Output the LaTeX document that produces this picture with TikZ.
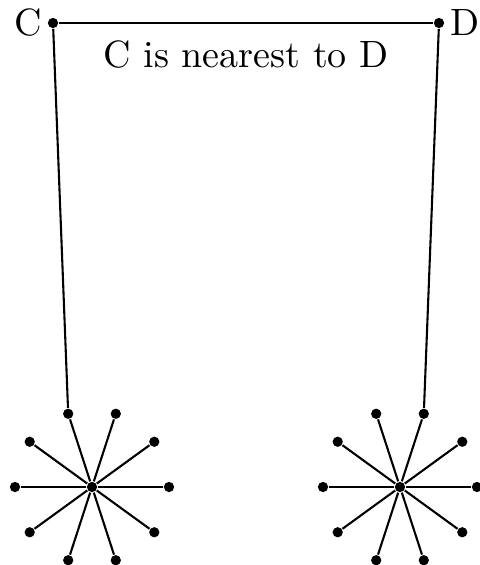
\documentclass[tikz,border=0pt]{standalone}
\usetikzlibrary{calc}
\begin{document}
\begin{tikzpicture}[x=0.263pt,y=-0.263pt,
  dot/.style={circle,fill=black,inner sep=0pt,minimum size=2.7pt},
  edge/.style={line width=0.55pt}]
\useasboundingbox (0,0) rectangle (479,565);
% top
\node[dot] (C) at (53,23) {};
\node[dot] (D) at (439,23) {};
\node[anchor=east,inner sep=1.2pt] (Cl) at (C.west) {C};
\node[anchor=west,inner sep=1.2pt] (Dl) at (D.east) {D};
\draw[edge] (C) -- (D) node[midway,below=1pt] (txt) {C is nearest to D};
% stars
\node[dot] (Lc) at (92,487) {};
\node[dot] (Rc) at (400,487) {};
\foreach \i in {0,...,9}{
  \node[dot] (L\i) at ($(Lc)+({77*cos(\i*36)},{-77*sin(\i*36)})$) {};
  \node[dot] (R\i) at ($(Rc)+({77*cos(\i*36)},{-77*sin(\i*36)})$) {};
  \draw[edge] (Lc) -- (L\i);
  \draw[edge] (Rc) -- (R\i);
}
\draw[edge] (C) -- (L3);
\draw[edge] (D) -- (R2);
\end{tikzpicture}
\end{document}
